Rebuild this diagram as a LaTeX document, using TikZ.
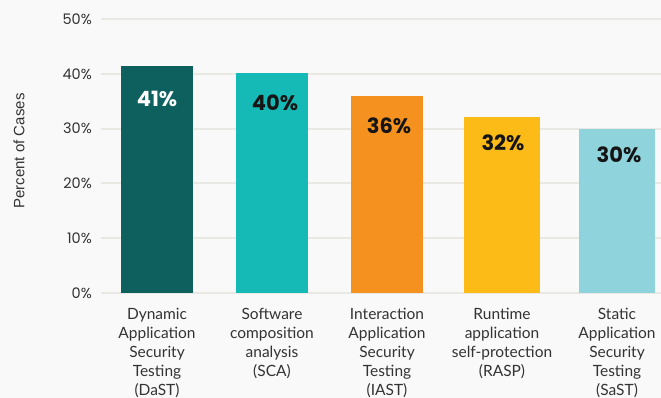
\documentclass[tikz,border=0pt]{standalone}
\usepackage{fontspec}
\setmainfont{Lato}
\newfontfamily\popfont{Poppins}
\newfontfamily\titlefont{Liberation Sans}
\definecolor{bgc}{HTML}{F9F9F9}
\definecolor{gridc}{HTML}{E9E8E2}
\definecolor{txtc}{HTML}{333333}
\definecolor{valc}{HTML}{151515}
\definecolor{barA}{HTML}{0E605E}
\definecolor{barB}{HTML}{15B9B5}
\definecolor{barC}{HTML}{F5921F}
\definecolor{barD}{HTML}{FCBB16}
\definecolor{barE}{HTML}{8FD4DC}
\tikzset{
  gridline/.style={draw=gridc, line width=2pt},
  ticklab/.style={anchor=east, inner sep=0pt, text=txtc, font=\popfont\fontsize{14.5}{16}\selectfont},
  vallab/.style={inner sep=0pt, text=valc, font=\popfont\bfseries\fontsize{21}{24}\selectfont},
  catlab/.style={anchor=north, inner sep=0pt, text=txtc, align=center, font=\fontsize{15.5}{19}\selectfont},
}
\begin{document}
\begin{tikzpicture}[x=1pt,y=-1pt]
\fill[bgc] (0,0) rectangle (661,398);
\useasboundingbox (0,0) rectangle (661,398);
% gridlines
\foreach \v/\yy in {0/293,10/238.2,20/183.4,30/128.6,40/73.8,50/19}{
  \draw[gridline] (101,\yy) -- (661,\yy);
  \node[ticklab] (t\v) at (92,\yy) {\v\%};
}
% bars
\fill[barA] (121,66) rectangle (193,293);
\fill[barB] (236,73) rectangle (308,293);
\fill[barC] (351,96) rectangle (423,293);
\fill[barD] (464,117) rectangle (540,293);
\fill[barE] (579,129) rectangle (655,293);
% value labels
\node[vallab, text=white] (v1) at (157,99) {41\%};
\node[vallab] (v2) at (275,103) {40\%};
\node[vallab] (v3) at (389,126) {36\%};
\node[vallab] (v4) at (503,143) {32\%};
\node[vallab] (v5) at (619,155) {30\%};
% category labels
\node[catlab] (c1) at (157,308) {Dynamic\\Application\\Security\\Testing\\(DaST)};
\node[catlab] (c2) at (272,308) {Software\\composition\\analysis\\(SCA)};
\node[catlab] (c3) at (387,308) {Interaction\\Application\\Security\\Testing\\(IAST)};
\node[catlab] (c4) at (502,308) {Runtime\\application\\self-protection\\(RASP)};
\node[catlab] (c5) at (617,308) {Static\\Application\\Security\\Testing\\(SaST)};
% axis title
\node[rotate=90, inner sep=0pt, text=txtc, font=\titlefont\fontsize{15}{17}\selectfont] (yt) at (19,151) {Percent of Cases};
\end{tikzpicture}
\end{document}
